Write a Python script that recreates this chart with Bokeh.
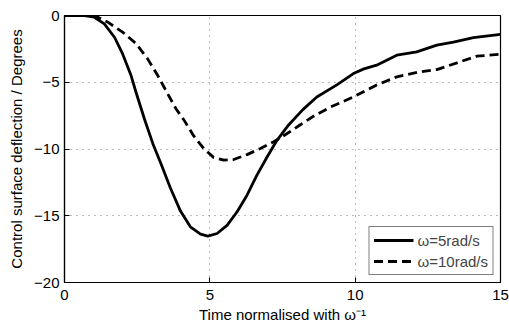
from bokeh.plotting import figure
from bokeh.models import FixedTicker, Range1d, Legend, LegendItem
from bokeh.embed import file_html
from bokeh.resources import INLINE

# Data
t_w5 = [0, 0.69, 1.03, 1.37, 1.72, 2.0, 2.29, 2.46, 2.75, 3.04, 3.32, 3.64, 3.99, 4.33, 4.68,
        4.93, 5.25, 5.6, 5.94, 6.28, 6.62, 6.97, 7.31, 7.71, 8.2, 8.68, 9.37, 9.94, 10.3, 10.74,
        11.43, 12.12, 12.81, 13.38, 14.07, 15.0]
y_w5 = [0, 0, -0.13, -0.63, -1.63, -2.88, -4.5, -5.75, -7.75, -9.6, -11.1, -12.9, -14.65,
        -15.83, -16.38, -16.53, -16.33, -15.7, -14.7, -13.46, -11.96, -10.6, -9.35, -8.2, -7.05,
        -6.1, -5.2, -4.35, -4.0, -3.72, -2.97, -2.72, -2.22, -2.0, -1.65, -1.42]

t_w10 = [0, 0.8, 1.15, 1.49, 2.0, 2.46, 2.86, 3.21, 3.55, 3.84, 4.1, 4.44, 4.79, 5.13, 5.48,
         5.82, 6.28, 6.74, 7.2, 7.66, 8.1, 8.6, 9.14, 9.94, 10.74, 11.43, 12.23, 12.81, 13.5,
         14.18, 15.0]
y_w10 = [0, 0, -0.13, -0.5, -1.25, -2.1, -3.25, -4.5, -5.87, -7.0, -7.8, -9.0, -9.96, -10.63,
         -10.84, -10.79, -10.42, -9.96, -9.46, -8.84, -8.2, -7.5, -6.87, -6.1, -5.2, -4.6, -4.22,
         -4.05, -3.55, -3.05, -2.9]

x_ticks = [0, 5, 10, 15]
y_ticks = [0, -5, -10, -15, -20]
y_tick_labels = ["0", "\u22125", "\u221210", "\u221215", "\u221220"]
series_labels = ["\u03c9=5rad/s", "\u03c9=10rad/s"]

FONT = "Liberation Sans"

p = figure(width=509, height=328, output_backend="svg", toolbar_location=None,
           x_range=Range1d(0, 15), y_range=Range1d(-20, 0),
           min_border_left=64, min_border_right=9, min_border_top=15, min_border_bottom=46)
p.background_fill_color = "white"
p.border_fill_color = "white"
p.outline_line_color = "black"
p.outline_line_width = 1.2

r1 = p.line(t_w5, y_w5, line_color="black", line_width=2.8, line_join="round")
r2 = p.line(t_w10, y_w10, line_color="black", line_width=2.8, line_dash="9 5")

for ax in (p.xaxis[0], p.yaxis[0]):
    ax.major_tick_in = 5
    ax.major_tick_out = 0
    ax.minor_tick_in = 0
    ax.minor_tick_out = 0
    ax.axis_line_color = "black"
    ax.axis_line_width = 1.2
    ax.major_label_text_font = FONT
    ax.major_label_text_font_size = "15px"
    ax.major_label_text_color = "black"
    ax.axis_label_text_font = FONT
    ax.axis_label_text_font_size = "15px"
    ax.axis_label_text_font_style = "normal"
    ax.axis_label_text_color = "black"

p.xaxis[0].ticker = FixedTicker(ticks=x_ticks)
p.yaxis[0].ticker = FixedTicker(ticks=y_ticks)
p.yaxis[0].major_label_overrides = {t: s for t, s in zip(y_ticks, y_tick_labels)}
p.xaxis[0].axis_label = "Time normalised with \u03c9\u207b\u00b9"
p.yaxis[0].axis_label = "Control surface deflection / Degrees"
p.xaxis[0].major_label_standoff = 7
p.yaxis[0].major_label_standoff = 5
p.xaxis[0].axis_label_standoff = 3
p.yaxis[0].axis_label_standoff = 6

p.xgrid.ticker = FixedTicker(ticks=x_ticks)
p.ygrid.ticker = FixedTicker(ticks=y_ticks)
for g in (p.xgrid[0], p.ygrid[0]):
    g.grid_line_color = "#777777"
    g.grid_line_dash = "1 5"
    g.grid_line_width = 1

legend = Legend(items=[LegendItem(label=series_labels[0], renderers=[r1]),
                       LegendItem(label=series_labels[1], renderers=[r2])],
                location="bottom_right")
legend.margin = 7
legend.padding = 4
legend.spacing = 3
legend.glyph_width = 40
legend.glyph_height = 18
legend.label_height = 18
legend.label_standoff = 4
legend.label_text_font = FONT
legend.label_text_font_size = "15px"
legend.border_line_color = "black"
legend.border_line_width = 1.2
legend.background_fill_alpha = 1
p.add_layout(legend, "center")

open("out.html", "w").write(file_html(p, INLINE))
